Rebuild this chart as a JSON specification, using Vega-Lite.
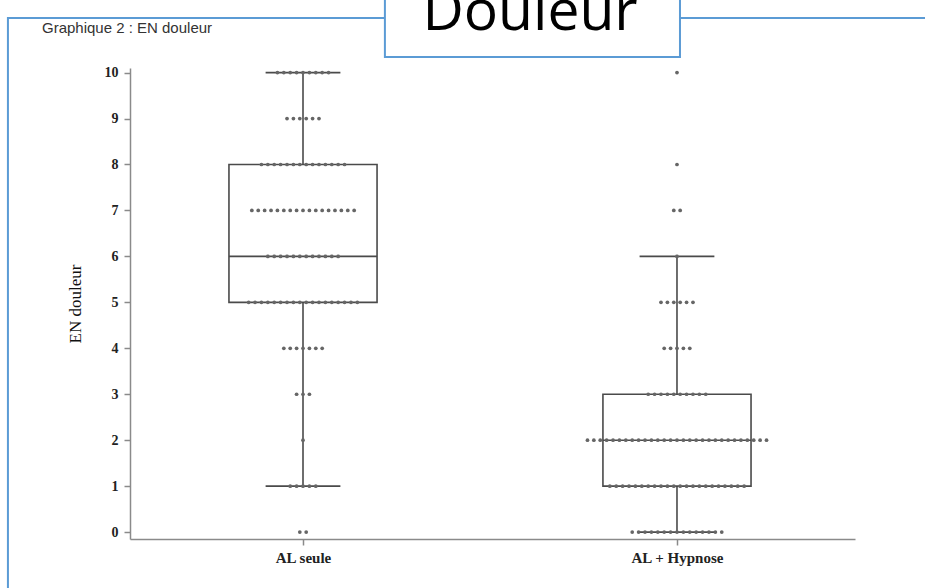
{
  "$schema": "https://vega.github.io/schema/vega-lite/v6.json",
  "autosize": "none",
  "width": 725,
  "height": 471,
  "padding": {"left": 130, "top": 68, "right": 70, "bottom": 49},
  "background": "white",
  "config": {"view": {"stroke": null}},
  "datasets": {
    "points": [
      {"g":"AL seule","v":10},{"g":"AL seule","v":10},{"g":"AL seule","v":10},{"g":"AL seule","v":10},{"g":"AL seule","v":10},{"g":"AL seule","v":10},{"g":"AL seule","v":10},{"g":"AL seule","v":10},{"g":"AL seule","v":10},
      {"g":"AL seule","v":9},{"g":"AL seule","v":9},{"g":"AL seule","v":9},{"g":"AL seule","v":9},{"g":"AL seule","v":9},{"g":"AL seule","v":9},
      {"g":"AL seule","v":8},{"g":"AL seule","v":8},{"g":"AL seule","v":8},{"g":"AL seule","v":8},{"g":"AL seule","v":8},{"g":"AL seule","v":8},{"g":"AL seule","v":8},{"g":"AL seule","v":8},{"g":"AL seule","v":8},{"g":"AL seule","v":8},{"g":"AL seule","v":8},{"g":"AL seule","v":8},{"g":"AL seule","v":8},{"g":"AL seule","v":8},
      {"g":"AL seule","v":7},{"g":"AL seule","v":7},{"g":"AL seule","v":7},{"g":"AL seule","v":7},{"g":"AL seule","v":7},{"g":"AL seule","v":7},{"g":"AL seule","v":7},{"g":"AL seule","v":7},{"g":"AL seule","v":7},{"g":"AL seule","v":7},{"g":"AL seule","v":7},{"g":"AL seule","v":7},{"g":"AL seule","v":7},{"g":"AL seule","v":7},{"g":"AL seule","v":7},{"g":"AL seule","v":7},{"g":"AL seule","v":7},
      {"g":"AL seule","v":6},{"g":"AL seule","v":6},{"g":"AL seule","v":6},{"g":"AL seule","v":6},{"g":"AL seule","v":6},{"g":"AL seule","v":6},{"g":"AL seule","v":6},{"g":"AL seule","v":6},{"g":"AL seule","v":6},{"g":"AL seule","v":6},{"g":"AL seule","v":6},{"g":"AL seule","v":6},
      {"g":"AL seule","v":5},{"g":"AL seule","v":5},{"g":"AL seule","v":5},{"g":"AL seule","v":5},{"g":"AL seule","v":5},{"g":"AL seule","v":5},{"g":"AL seule","v":5},{"g":"AL seule","v":5},{"g":"AL seule","v":5},{"g":"AL seule","v":5},{"g":"AL seule","v":5},{"g":"AL seule","v":5},{"g":"AL seule","v":5},{"g":"AL seule","v":5},{"g":"AL seule","v":5},{"g":"AL seule","v":5},{"g":"AL seule","v":5},{"g":"AL seule","v":5},
      {"g":"AL seule","v":4},{"g":"AL seule","v":4},{"g":"AL seule","v":4},{"g":"AL seule","v":4},{"g":"AL seule","v":4},{"g":"AL seule","v":4},{"g":"AL seule","v":4},
      {"g":"AL seule","v":3},{"g":"AL seule","v":3},{"g":"AL seule","v":3},
      {"g":"AL seule","v":2},
      {"g":"AL seule","v":1},{"g":"AL seule","v":1},{"g":"AL seule","v":1},{"g":"AL seule","v":1},{"g":"AL seule","v":1},
      {"g":"AL seule","v":0},{"g":"AL seule","v":0},
      {"g":"AL + Hypnose","v":10},
      {"g":"AL + Hypnose","v":8},
      {"g":"AL + Hypnose","v":7},{"g":"AL + Hypnose","v":7},
      {"g":"AL + Hypnose","v":6},
      {"g":"AL + Hypnose","v":5},{"g":"AL + Hypnose","v":5},{"g":"AL + Hypnose","v":5},{"g":"AL + Hypnose","v":5},{"g":"AL + Hypnose","v":5},{"g":"AL + Hypnose","v":5},
      {"g":"AL + Hypnose","v":4},{"g":"AL + Hypnose","v":4},{"g":"AL + Hypnose","v":4},{"g":"AL + Hypnose","v":4},{"g":"AL + Hypnose","v":4},
      {"g":"AL + Hypnose","v":3},{"g":"AL + Hypnose","v":3},{"g":"AL + Hypnose","v":3},{"g":"AL + Hypnose","v":3},{"g":"AL + Hypnose","v":3},{"g":"AL + Hypnose","v":3},{"g":"AL + Hypnose","v":3},{"g":"AL + Hypnose","v":3},{"g":"AL + Hypnose","v":3},{"g":"AL + Hypnose","v":3},
      {"g":"AL + Hypnose","v":2},{"g":"AL + Hypnose","v":2},{"g":"AL + Hypnose","v":2},{"g":"AL + Hypnose","v":2},{"g":"AL + Hypnose","v":2},{"g":"AL + Hypnose","v":2},{"g":"AL + Hypnose","v":2},{"g":"AL + Hypnose","v":2},{"g":"AL + Hypnose","v":2},{"g":"AL + Hypnose","v":2},{"g":"AL + Hypnose","v":2},{"g":"AL + Hypnose","v":2},{"g":"AL + Hypnose","v":2},{"g":"AL + Hypnose","v":2},{"g":"AL + Hypnose","v":2},{"g":"AL + Hypnose","v":2},{"g":"AL + Hypnose","v":2},{"g":"AL + Hypnose","v":2},{"g":"AL + Hypnose","v":2},{"g":"AL + Hypnose","v":2},{"g":"AL + Hypnose","v":2},{"g":"AL + Hypnose","v":2},{"g":"AL + Hypnose","v":2},{"g":"AL + Hypnose","v":2},{"g":"AL + Hypnose","v":2},{"g":"AL + Hypnose","v":2},{"g":"AL + Hypnose","v":2},{"g":"AL + Hypnose","v":2},{"g":"AL + Hypnose","v":2},
      {"g":"AL + Hypnose","v":1},{"g":"AL + Hypnose","v":1},{"g":"AL + Hypnose","v":1},{"g":"AL + Hypnose","v":1},{"g":"AL + Hypnose","v":1},{"g":"AL + Hypnose","v":1},{"g":"AL + Hypnose","v":1},{"g":"AL + Hypnose","v":1},{"g":"AL + Hypnose","v":1},{"g":"AL + Hypnose","v":1},{"g":"AL + Hypnose","v":1},{"g":"AL + Hypnose","v":1},{"g":"AL + Hypnose","v":1},{"g":"AL + Hypnose","v":1},{"g":"AL + Hypnose","v":1},{"g":"AL + Hypnose","v":1},{"g":"AL + Hypnose","v":1},{"g":"AL + Hypnose","v":1},{"g":"AL + Hypnose","v":1},{"g":"AL + Hypnose","v":1},{"g":"AL + Hypnose","v":1},{"g":"AL + Hypnose","v":1},
      {"g":"AL + Hypnose","v":0},{"g":"AL + Hypnose","v":0},{"g":"AL + Hypnose","v":0},{"g":"AL + Hypnose","v":0},{"g":"AL + Hypnose","v":0},{"g":"AL + Hypnose","v":0},{"g":"AL + Hypnose","v":0},{"g":"AL + Hypnose","v":0},{"g":"AL + Hypnose","v":0},{"g":"AL + Hypnose","v":0},{"g":"AL + Hypnose","v":0},{"g":"AL + Hypnose","v":0},{"g":"AL + Hypnose","v":0},{"g":"AL + Hypnose","v":0},{"g":"AL + Hypnose","v":0}
    ],
    "stats": [
      {"g":"AL seule","lo":1,"q1":5,"med":6,"q3":8,"hi":10},
      {"g":"AL + Hypnose","lo":0,"q1":1,"med":2,"q3":3,"hi":6}
    ]
  },
  "layer": [
    {
      "data": {"values": [{}]},
      "mark": {"type": "rect", "fill": "transparent", "stroke": "#5b9bd5", "strokeWidth": 2},
      "encoding": {
        "x": {"datum": 0.211, "type": "quantitative", "scale": {"domain": [0.5374, 2.476], "nice": false, "zero": false}},
        "x2": {"datum": 2.75},
        "y": {"datum": 11.186, "type": "quantitative", "scale": {"domain": [-0.15, 10.1], "nice": false, "zero": false}},
        "y2": {"datum": -1.6}
      }
    },
    {
      "data": {"values": [{}]},
      "mark": {"type": "rect", "fill": "white", "stroke": "#5b9bd5", "strokeWidth": 2},
      "encoding": {
        "x": {"datum": 1.219, "type": "quantitative"},
        "x2": {"datum": 2.008},
        "y": {"datum": 11.7, "type": "quantitative"},
        "y2": {"datum": 10.337}
      }
    },
    {
      "data": {"values": [{"t": "Douleur"}]},
      "mark": {"type": "text", "font": "Open Sans", "fontSize": 57, "align": "center", "baseline": "alphabetic", "color": "black"},
      "encoding": {
        "x": {"datum": 1.607, "type": "quantitative"},
        "y": {"datum": 10.93, "type": "quantitative"},
        "text": {"field": "t"}
      }
    },
    {
      "data": {"values": [{"t": "Graphique 2 : EN douleur"}]},
      "mark": {"type": "text", "font": "Liberation Sans", "fontSize": 15, "align": "left", "baseline": "alphabetic", "color": "#333"},
      "encoding": {
        "x": {"datum": 0.302, "type": "quantitative"},
        "y": {"datum": 10.87, "type": "quantitative"},
        "text": {"field": "t"}
      }
    },
    {
      "data": {"name": "stats"},
      "transform": [
        {"calculate": "datum.g == 'AL seule' ? 1 : 2", "as": "gi"},
        {"calculate": "datum.gi - 0.198", "as": "left"},
        {"calculate": "datum.gi + 0.198", "as": "right"},
        {"calculate": "datum.gi - 0.1", "as": "cl"},
        {"calculate": "datum.gi + 0.1", "as": "cr"}
      ],
      "layer": [
        {
          "mark": {"type": "rect", "fill": "transparent", "stroke": "#4a4a4a", "strokeWidth": 1.6},
          "encoding": {
            "x": {"field": "left", "type": "quantitative"},
            "x2": {"field": "right"},
            "y": {"field": "q1", "type": "quantitative"},
            "y2": {"field": "q3"}
          }
        },
        {
          "mark": {"type": "rule", "stroke": "#4a4a4a", "strokeWidth": 1.6},
          "encoding": {
            "x": {"field": "left", "type": "quantitative"},
            "x2": {"field": "right"},
            "y": {"field": "med", "type": "quantitative"}
          }
        },
        {
          "mark": {"type": "rule", "stroke": "#4a4a4a", "strokeWidth": 1.6},
          "encoding": {
            "x": {"field": "gi", "type": "quantitative"},
            "y": {"field": "q3", "type": "quantitative"},
            "y2": {"field": "hi"}
          }
        },
        {
          "mark": {"type": "rule", "stroke": "#4a4a4a", "strokeWidth": 1.6},
          "encoding": {
            "x": {"field": "gi", "type": "quantitative"},
            "y": {"field": "lo", "type": "quantitative"},
            "y2": {"field": "q1"}
          }
        },
        {
          "mark": {"type": "rule", "stroke": "#4a4a4a", "strokeWidth": 1.6},
          "encoding": {
            "x": {"field": "cl", "type": "quantitative"},
            "x2": {"field": "cr"},
            "y": {"field": "hi", "type": "quantitative"}
          }
        },
        {
          "mark": {"type": "rule", "stroke": "#4a4a4a", "strokeWidth": 1.6},
          "encoding": {
            "x": {"field": "cl", "type": "quantitative"},
            "x2": {"field": "cr"},
            "y": {"field": "lo", "type": "quantitative"}
          }
        }
      ]
    },
    {
      "data": {"name": "points"},
      "transform": [
        {"window": [{"op": "row_number", "as": "r"}], "groupby": ["g", "v"]},
        {"joinaggregate": [{"op": "count", "as": "n"}], "groupby": ["g", "v"]},
        {"calculate": "(datum.g == 'AL seule' ? 1 : 2) + (datum.r - (datum.n + 1) / 2) * 0.0171", "as": "xp"}
      ],
      "mark": {"type": "circle", "size": 14, "color": "#666", "opacity": 1},
      "encoding": {
        "x": {
          "field": "xp", "type": "quantitative",
          "axis": {
            "values": [1, 2],
            "labelExpr": "datum.value == 1 ? 'AL seule' : 'AL + Hypnose'",
            "title": null, "grid": false,
            "domainColor": "#8a8a8a", "domainWidth": 1.5,
            "tickColor": "#8a8a8a", "tickWidth": 1.5, "tickSize": 6,
            "labelFont": "Liberation Serif", "labelFontWeight": "bold", "labelFontSize": 15,
            "labelColor": "#222", "labelPadding": 5
          }
        },
        "y": {
          "field": "v", "type": "quantitative",
          "axis": {
            "values": [0, 1, 2, 3, 4, 5, 6, 7, 8, 9, 10],
            "title": "EN douleur", "grid": false,
            "titleFont": "Liberation Serif", "titleFontWeight": "normal", "titleFontSize": 17,
            "titleColor": "#111", "titlePadding": 20,
            "domainColor": "#8a8a8a", "domainWidth": 1.5,
            "tickColor": "#8a8a8a", "tickWidth": 1.5, "tickSize": 6,
            "labelFont": "Liberation Serif", "labelFontWeight": "bold", "labelFontSize": 14,
            "labelColor": "#222", "labelPadding": 6
          }
        }
      }
    }
  ]
}
